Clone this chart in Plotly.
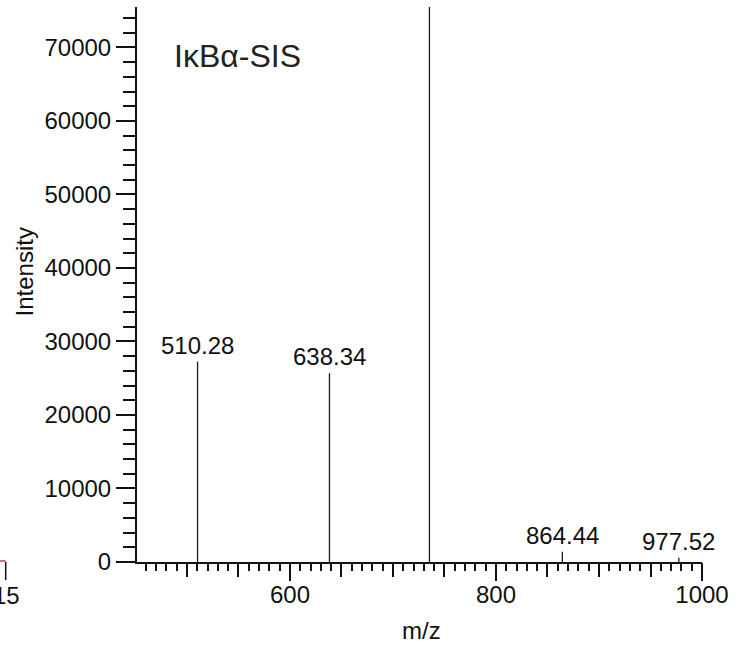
import plotly.graph_objects as go

# Peak data (m/z, intensity)
mz = [510.28, 638.34, 735.40, 864.44, 977.52]
intensity = [27260, 25680, 98000, 1400, 590]
peak_labels = ["510.28", "638.34", "", "864.44", "977.52"]

x_range = [451.5, 1000]
y_range = [0, 75500]
x_label_ticks = [600, 800, 1000]
x_mid_ticks = [500, 550, 650, 700, 750, 850, 900, 950]
y_ticks = [0, 10000, 20000, 30000, 40000, 50000, 60000, 70000]

FONT = "Liberation Sans, Arial, Helvetica, sans-serif"
TS = 24

# build stick spectrum
xs, ys = [], []
for m, i in zip(mz, intensity):
    xs += [m, m, None]
    ys += [0, i, None]

fig = go.Figure()
fig.add_trace(go.Scatter(x=xs, y=ys, mode="lines",
                         line=dict(color="#1a1a1a", width=1.3),
                         hoverinfo="skip", showlegend=False))
# invisible trace to activate the labelled overlay axis
fig.add_trace(go.Scatter(x=[x_label_ticks[0]], y=[0], xaxis="x2", mode="markers",
                         marker=dict(opacity=0), hoverinfo="skip", showlegend=False))

annotations = []
for m, i, lab in zip(mz, intensity, peak_labels):
    if lab:
        annotations.append(dict(x=m, y=i, xref="x", yref="y", text=lab,
                                showarrow=False, xanchor="center", yanchor="bottom",
                                yshift=1, font=dict(family=FONT, size=TS, color="#111")))

PX0, PX1, PY0, PY1 = 137, 702, 7, 562
def px(x):
    return (x - PX0) / (PX1 - PX0)
def py(y):
    return (PY1 - y) / (PY1 - PY0)

annotations += [
    dict(x=px(172), y=py(56), xref="paper", yref="paper", text="IκBα-SIS",
         showarrow=False, xanchor="left", yanchor="middle",
         font=dict(family=FONT, size=32, color="#222")),
    dict(x=px(23.5), y=py(272), xref="paper", yref="paper", text="Intensity",
         showarrow=False, textangle=-90, xanchor="center", yanchor="middle",
         font=dict(family=FONT, size=TS, color="#111")),
    dict(x=px(421.7), y=py(630), xref="paper", yref="paper", text="m/z",
         showarrow=False, xanchor="center", yanchor="middle",
         font=dict(family=FONT, size=TS, color="#111")),
    dict(x=px(22), y=py(595), xref="paper", yref="paper", text="15",
         showarrow=False, xanchor="right", yanchor="middle",
         font=dict(family=FONT, size=TS, color="#111")),
]

shapes = [
    dict(type="line", xref="paper", yref="paper", x0=px(5.7), x1=px(5.7),
         y0=py(562), y1=py(580), line=dict(color="#111", width=1.5)),
    dict(type="line", xref="paper", yref="paper", x0=px(-2), x1=px(5.7),
         y0=py(561), y1=py(561), line=dict(color="#b04040", width=1.5)),
]

fig.update_layout(
    width=753, height=647,
    margin=dict(l=PX0, r=753 - PX1, t=PY0, b=647 - PY1, autoexpand=False),
    paper_bgcolor="white", plot_bgcolor="white",
    font=dict(family=FONT, size=TS, color="#111"),
    showlegend=False,
    xaxis=dict(range=x_range, showgrid=False, zeroline=False, automargin=False,
               showline=True, linecolor="#111", linewidth=2,
               tickmode="array", tickvals=x_mid_ticks, showticklabels=False,
               ticks="outside", ticklen=13, tickwidth=1.5, tickcolor="#111",
               minor=dict(dtick=10, tick0=0, ticks="outside", ticklen=7,
                          tickwidth=1.5, tickcolor="#111")),
    xaxis2=dict(range=x_range, overlaying="x", anchor="y", side="bottom",
                showgrid=False, zeroline=False, showline=False, automargin=False,
                tickmode="array", tickvals=x_label_ticks,
                ticktext=[str(v) for v in x_label_ticks],
                ticks="outside", ticklen=18, tickwidth=1.5, tickcolor="#111",
                ticklabelstandoff=-7,
                tickfont=dict(family=FONT, size=TS, color="#111")),
    yaxis=dict(range=y_range, showgrid=False, zeroline=False, automargin=False,
               showline=True, linecolor="#111", linewidth=2,
               tickmode="array", tickvals=y_ticks,
               ticktext=[str(v) for v in y_ticks],
               ticks="outside", ticklen=19, tickwidth=2, tickcolor="#111",
               tickfont=dict(family=FONT, size=TS, color="#111"),
               minor=dict(dtick=2000, tick0=0, ticks="outside", ticklen=12,
                          tickwidth=2, tickcolor="#111")),
    annotations=annotations,
    shapes=shapes,
)

fig.write_html("out.html", config={"displayModeBar": False},
               post_script="document.body.style.margin='0px';document.body.style.overflow='hidden';")
